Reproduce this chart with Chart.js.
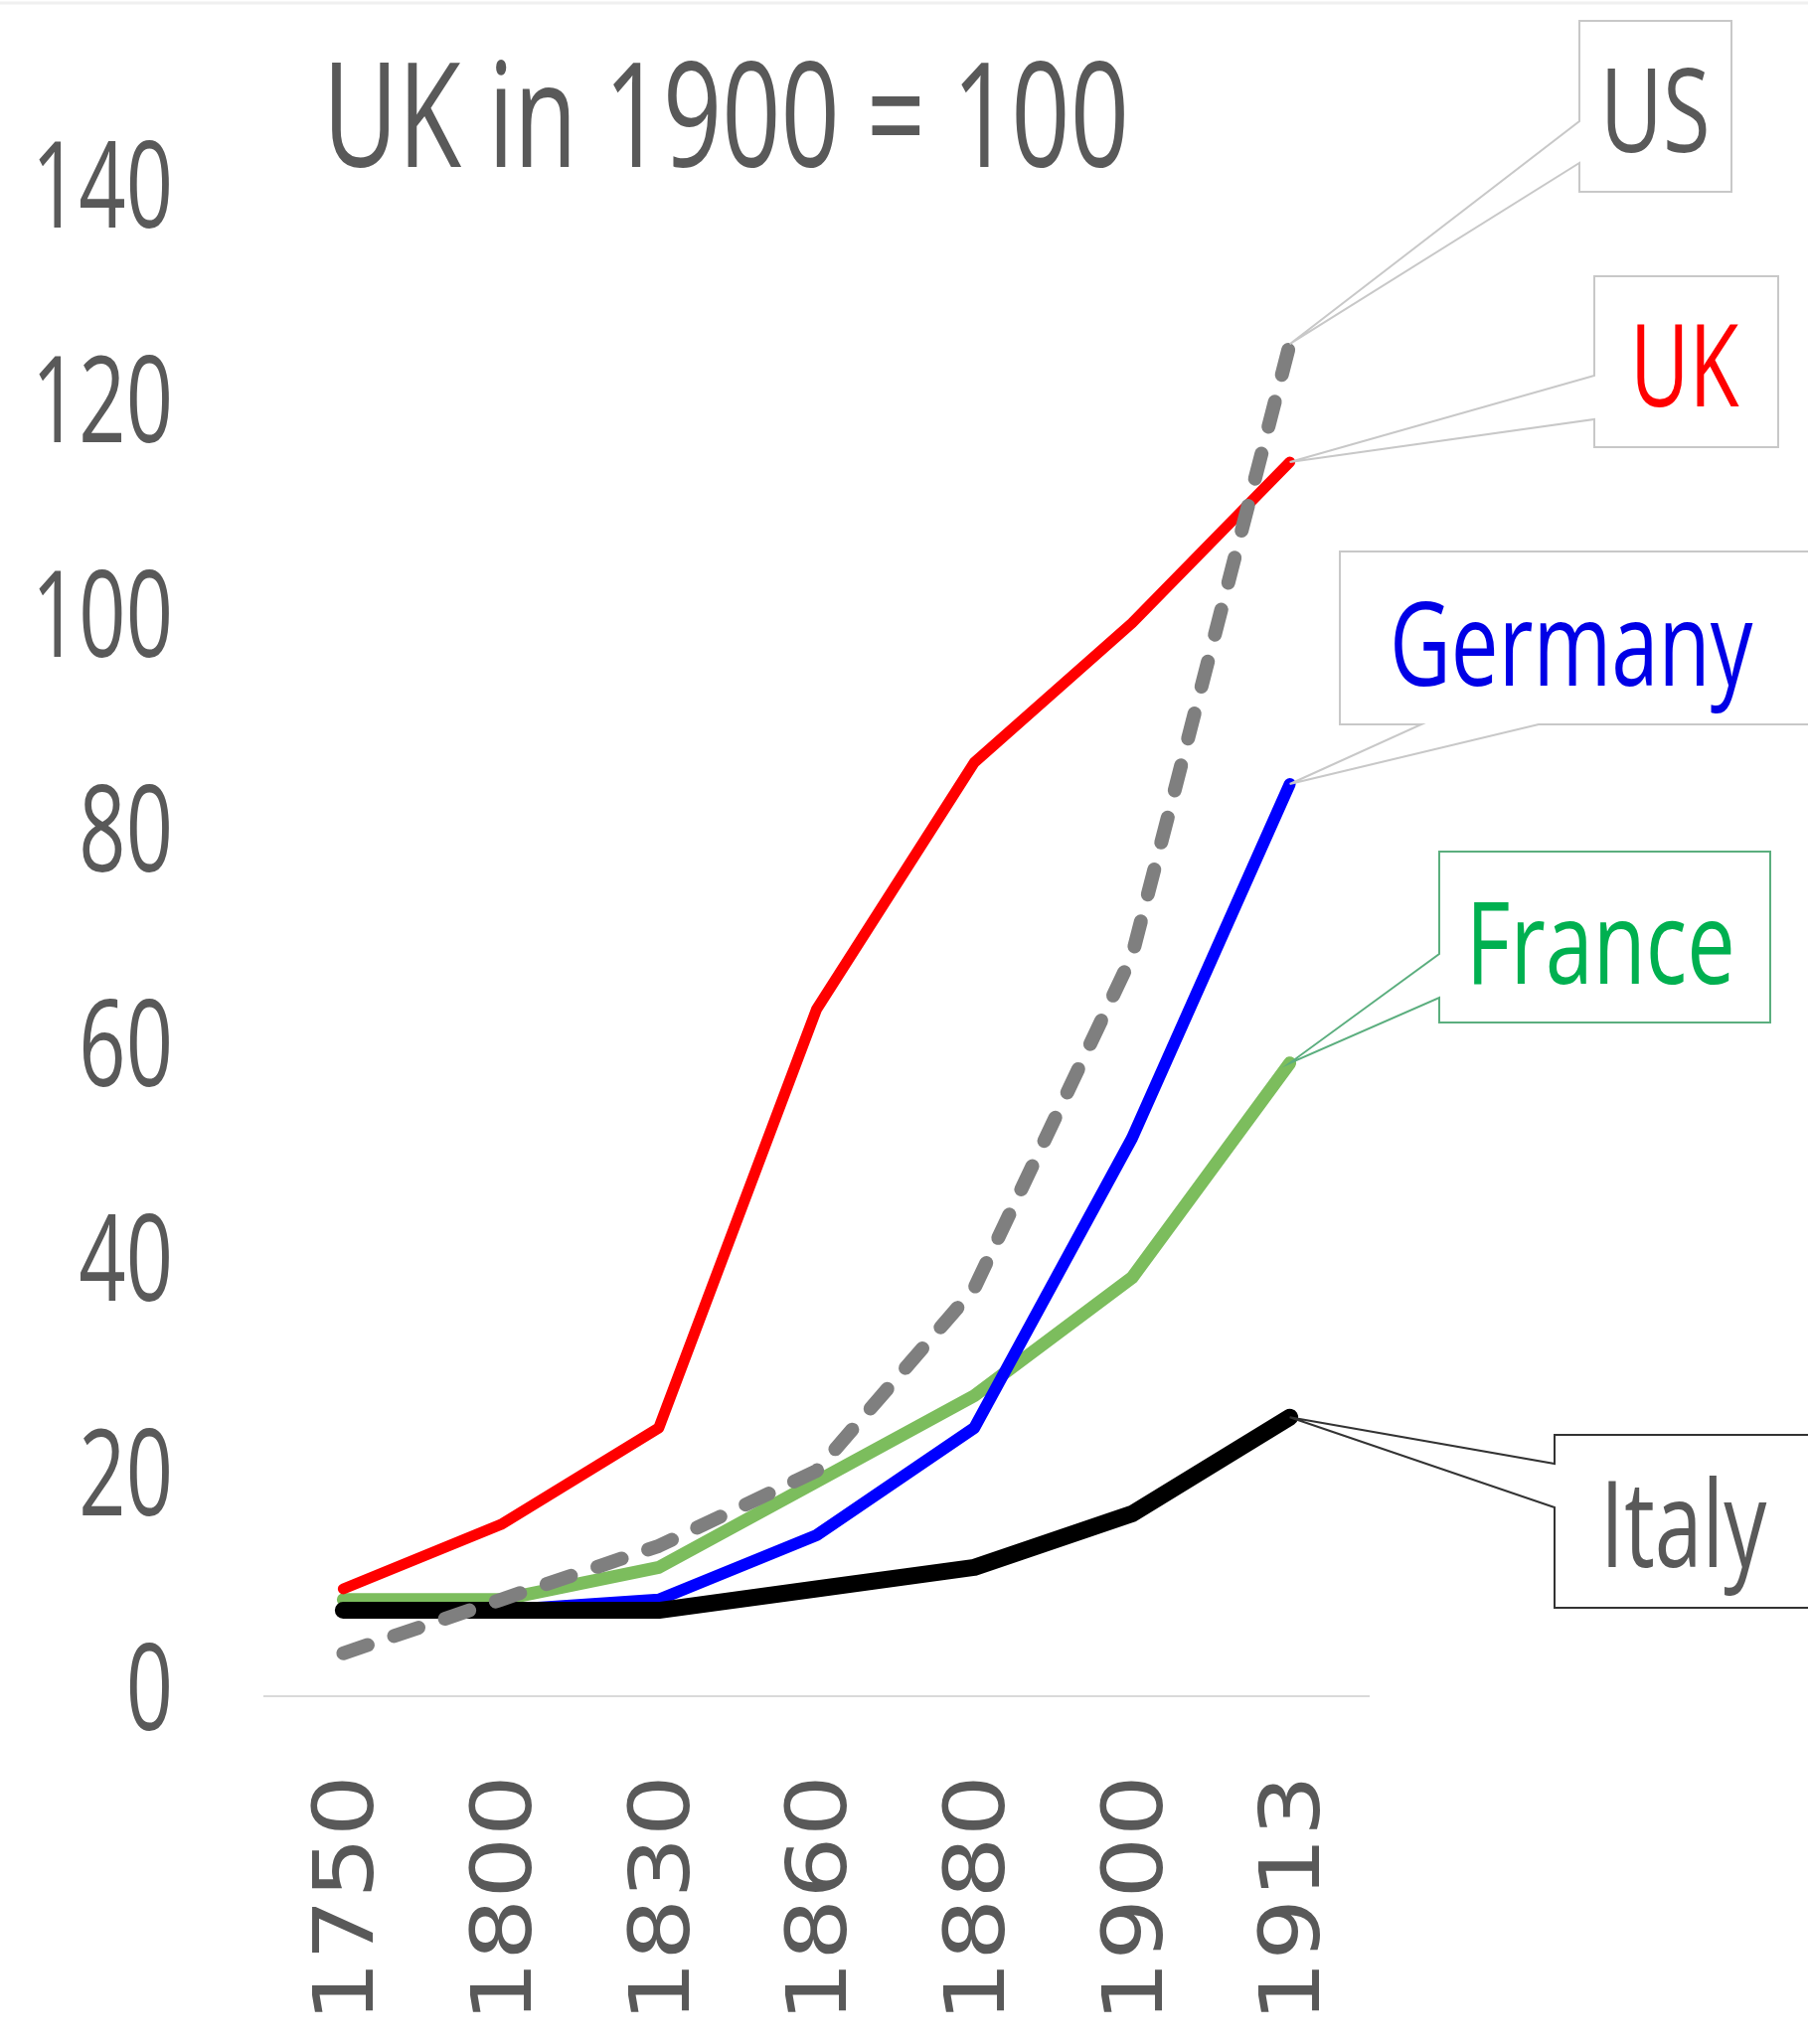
<!DOCTYPE html>
<html>
<head>
<meta charset="utf-8">
<script src="https://cdn.jsdelivr.net/npm/chart.js@4.4.1/dist/chart.umd.min.js"></script>
<style>
html,body{margin:0;padding:0;background:#ffffff;}
#wrap{width:1819px;height:2057px;position:relative;}
canvas{display:block;}
</style>
</head>
<body>
<div id="wrap"><canvas id="c" width="1819" height="2057"></canvas></div>
<script>
// ---- data ----
const years = ['1750', '1800', '1830', '1860', '1880', '1900', '1913'];
const usValues = [4, 9, 14, 21, 38, 69, 126];
const ukValues = [10, 16, 25, 64, 87, 100, 115];
const italyValues = [8, 8, 8, 10, 12, 17, 26];
const germanyValues = [8, 8, 9, 15, 25, 52, 85];
const franceValues = [9, 9, 12, 20, 28, 39, 59];
const yTicks = [0, 20, 40, 60, 80, 100, 120, 140];
const titleText = 'UK in 1900 = 100';
const seriesNames = ['US', 'UK', 'Italy', 'Germany', 'France'];

// ---- styles / layout ----
const TEXT_GREY = '#595959';
const NARROW_FONT = '"Open Sans", "Noto Sans", sans-serif';
const X_LABEL_SQUISH = 0.85;
const X_LABEL_SHIFT = 17;

const callouts = [
  {ds: 0, color: '#595959', border: '#c8c8c8', box: [1589, 21, 1742, 193], side: 'left', wedge: [122, 164], ink: [1617, 1717], base: 153, size: 118},
  {ds: 1, color: '#ff0000', border: '#c8c8c8', box: [1604, 278, 1789, 450], side: 'left', wedge: [378, 422], ink: [1647, 1750], base: 409, size: 115},
  {ds: 3, color: '#0000e6', border: '#c8c8c8', box: [1348, 555, 1840, 729], side: 'bottom', wedge: [1430, 1548], ink: [1403, 1764], base: 690, size: 118},
  {ds: 4, color: '#00b050', border: '#5bae7e', box: [1448, 857, 1781, 1029], side: 'left', wedge: [960, 1004], ink: [1483, 1742], base: 990, size: 116},
  {ds: 2, color: '#595959', border: '#333333', box: [1564, 1444, 1840, 1618], side: 'left', wedge: [1473, 1517], ink: [1618, 1778], base: 1577, size: 120}
];

function drawSquished(ctx, text, font, color, left, right, baseline) {
  ctx.save();
  ctx.font = font;
  ctx.fillStyle = color;
  ctx.textAlign = 'left';
  ctx.textBaseline = 'alphabetic';
  const m = ctx.measureText(text);
  const w = m.actualBoundingBoxLeft + m.actualBoundingBoxRight;
  const sx = (right - left) / w;
  ctx.translate(left, 0);
  ctx.scale(sx, 1);
  ctx.fillText(text, m.actualBoundingBoxLeft, baseline);
  ctx.restore();
}

const decorPlugin = {
  id: 'decor',
  beforeDraw(chart) {
    const ctx = chart.ctx;
    ctx.save();
    ctx.fillStyle = '#ffffff';
    ctx.fillRect(0, 0, chart.width, chart.height);
    ctx.strokeStyle = '#f0f0f0';
    ctx.lineWidth = 3;
    ctx.beginPath();
    ctx.moveTo(0, 3);
    ctx.lineTo(chart.width, 3);
    ctx.stroke();
    ctx.restore();

    // narrow the y tick labels horizontally (labels are still drawn by the scale)
    const s = chart.scales.y;
    if (!s._squished) {
      const orig = s.drawLabels.bind(s);
      s._computeLabelArea = function () { return undefined; };
      s.drawLabels = function (area) {
        const c = chart.ctx;
        c.save();
        c.font = '120px ' + NARROW_FONT;
        const sx = 142 / c.measureText('140').width;
        const ax = s.right - s.options.ticks.padding;
        c.translate(ax, 0);
        c.scale(sx, 1);
        c.translate(-ax, 0);
        orig(area);
        c.restore();
      };
      s._squished = true;
    }
    // compress rotated x labels across their glyph height, keeping their positions
    const xs = chart.scales.x;
    if (!xs._squished) {
      const origX = xs.drawLabels.bind(xs);
      xs._computeLabelArea = function () { return undefined; };
      xs.drawLabels = function (area) {
        const c = chart.ctx;
        const items = xs.getLabelItems(area);
        const saved = items.map(it => it.options.translation);
        items.forEach(it => {
          const t = it.options.translation;
          it.options.translation = [(t[0] + X_LABEL_SHIFT) / X_LABEL_SQUISH, t[1]];
        });
        c.save();
        c.scale(X_LABEL_SQUISH, 1);
        origX(area);
        c.restore();
        items.forEach((it, i) => { it.options.translation = saved[i]; });
      };
      xs._squished = true;
    }
  },
  afterDraw(chart) {
    const ctx = chart.ctx;
    // title
    drawSquished(ctx, titleText, '147px ' + NARROW_FONT, TEXT_GREY, 334, 1131, 168);

    // callouts
    callouts.forEach(c => {
      const meta = chart.getDatasetMeta(c.ds);
      const pt = meta.data[meta.data.length - 1];
      const px = pt.x, py = pt.y;
      const [x0, y0, x1, y1] = c.box;
      ctx.save();
      ctx.beginPath();
      if (c.side === 'left') {
        ctx.moveTo(x0, y0);
        ctx.lineTo(x1, y0);
        ctx.lineTo(x1, y1);
        ctx.lineTo(x0, y1);
        ctx.lineTo(x0, c.wedge[1]);
        ctx.lineTo(px, py);
        ctx.lineTo(x0, c.wedge[0]);
        ctx.closePath();
      } else {
        ctx.moveTo(x0, y0);
        ctx.lineTo(x1, y0);
        ctx.lineTo(x1, y1);
        ctx.lineTo(c.wedge[1], y1);
        ctx.lineTo(px, py);
        ctx.lineTo(c.wedge[0], y1);
        ctx.lineTo(x0, y1);
        ctx.closePath();
      }
      ctx.fillStyle = '#ffffff';
      ctx.fill();
      ctx.strokeStyle = c.border;
      ctx.lineWidth = 2;
      ctx.lineJoin = 'miter';
      ctx.stroke();
      ctx.restore();
      drawSquished(ctx, seriesNames[c.ds], c.size + 'px ' + NARROW_FONT, c.color, c.ink[0], c.ink[1], c.base);
    });
  }
};

const common = {pointRadius: 0, pointHoverRadius: 0, tension: 0, fill: false,
                borderCapStyle: 'round', borderJoinStyle: 'round'};

new Chart(document.getElementById('c'), {
  type: 'line',
  data: {
    labels: years,
    datasets: [
      Object.assign({label: seriesNames[0], data: usValues, borderColor: '#7f7f7f', borderWidth: 14, borderDash: [26, 28], order: 1}, common),
      Object.assign({label: seriesNames[1], data: ukValues, borderColor: '#ff0000', borderWidth: 11, order: 2}, common),
      Object.assign({label: seriesNames[2], data: italyValues, borderColor: '#000000', borderWidth: 17, order: 3}, common),
      Object.assign({label: seriesNames[3], data: germanyValues, borderColor: '#0000ff', borderWidth: 12, order: 4}, common),
      Object.assign({label: seriesNames[4], data: franceValues, borderColor: '#7cbd5d', borderWidth: 13, order: 5}, common)
    ]
  },
  options: {
    responsive: false,
    animation: false,
    devicePixelRatio: 1,
    layout: {padding: {top: 195, right: 442, left: 0, bottom: 0}},
    plugins: {legend: {display: false}, tooltip: {enabled: false}, title: {display: false}},
    scales: {
      x: {
        type: 'category',
        offset: true,
        grid: {display: false, drawTicks: false, tickLength: 0},
        border: {display: true, color: '#d9d9d9', width: 2},
        ticks: {
          autoSkip: false,
          minRotation: 90,
          maxRotation: 90,
          padding: 79,
          color: TEXT_GREY,
          font: {family: '"DejaVu Sans", sans-serif', size: 98}
        },
        afterFit(scale) { scale.height = 350; }
      },
      y: {
        min: 0,
        max: 140,
        grid: {display: false, drawTicks: false, tickLength: 0},
        border: {display: false},
        afterBuildTicks(scale) { scale.ticks = yTicks.map(v => ({value: v})); },
        ticks: {
          padding: 92,
          color: TEXT_GREY,
          font: {family: NARROW_FONT, size: 120}
        },
        afterFit(scale) { scale.width = 266; }
      }
    }
  },
  plugins: [decorPlugin]
});
</script>
</body>
</html>
